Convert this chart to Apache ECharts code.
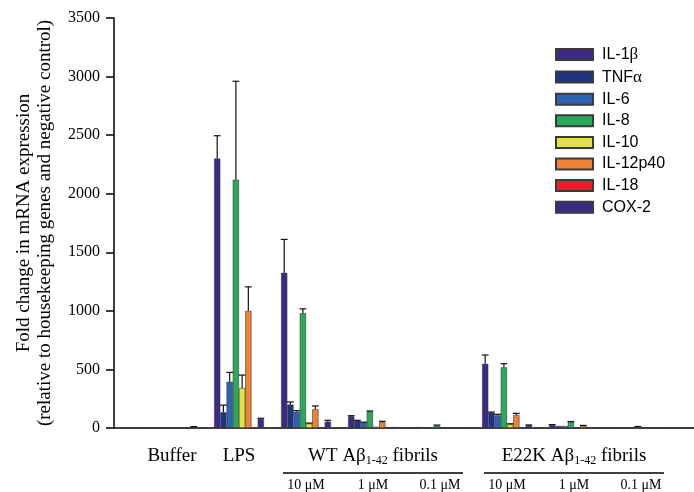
<!DOCTYPE html>
<html>
<head>
<meta charset="utf-8">
<script src="https://cdn.jsdelivr.net/npm/echarts@6/dist/echarts.min.js"></script>
<style>html,body{margin:0;padding:0;background:#fff;}#chart{width:694px;height:492px;}</style>
</head>
<body>
<div id="chart"></div>
<script>
// Categories (x)
var categories = ['Buffer', 'LPS', 'WT 10 μM', 'WT 1 μM', 'WT 0.1 μM', 'E22K 10 μM', 'E22K 1 μM', 'E22K 0.1 μM'];
var topLabels = ['Buffer', 'LPS', '', '', '', '', '', ''];
var concLabels = ['', '', '10 μM', '1 μM', '0.1 μM', '10 μM', '1 μM', '0.1 μM'];
var groupLabels = { 3: ['WT Aβ', '1-42', ' fibrils'], 6: ['E22K Aβ', '1-42', ' fibrils'] };
var yTicks = [0, 500, 1000, 1500, 2000, 2500, 3000, 3500];

// Series names and values (mean) and error (upper SD)
var seriesNames = ['IL-1β', 'TNFα', 'IL-6', 'IL-8', 'IL-10', 'IL-12p40', 'IL-18', 'COX-2'];
var il1b    = [6, 2300, 1325, 100, 8, 548, 26, 6];
var il1bErr = [0, 195, 285, 5, 0, 75, 3, 0];
var tnfa    = [5, 135, 200, 63, 5, 131, 17, 4];
var tnfaErr = [0, 60, 22, 3, 0, 5, 0, 0];
var il6     = [4, 395, 138, 48, 4, 108, 17, 5];
var il6Err  = [0, 80, 10, 2, 0, 9, 0, 0];
var il8     = [6, 2120, 980, 142, 20, 518, 51, 11];
var il8Err  = [0, 840, 37, 3, 5, 31, 4, 2];
var il10    = [2, 342, 38, 11, 2, 31, 3, 2];
var il10Err = [0, 110, 4, 0, 0, 5, 0, 0];
var il12    = [4, 1000, 160, 48, 5, 111, 20, 5];
var il12Err = [0, 205, 28, 9, 0, 14, 2, 0];
var il18    = [0, 0, 1, 0, 0, 0, 0, 0];
var il18Err = [0, 0, 0, 0, 0, 0, 0, 0];
var cox2    = [10, 77, 54, 8, 5, 23, 5, 6];
var cox2Err = [2, 6, 12, 0, 0, 3, 0, 0];

var values = [il1b, tnfa, il6, il8, il10, il12, il18, cox2];
var errors = [il1bErr, tnfaErr, il6Err, il8Err, il10Err, il12Err, il18Err, cox2Err];
var colors = ['#3d2a85', '#1f3580', '#2e63b3', '#2aa95a', '#e3e33b', '#f08233', '#e3202f', '#3c2b86'];

var BAR_FRAC = 0.093;
var serif = 'Liberation Serif';

var series = [];
seriesNames.forEach(function (name, i) {
  series.push({
    name: name,
    type: 'bar',
    xAxisIndex: 0, yAxisIndex: 0,
    data: values[i],
    barWidth: (BAR_FRAC * 100) + '%',
    barGap: '0%',
    itemStyle: { color: colors[i], borderColor: '#3a3a3a', borderWidth: 0.6 }
  });
});
seriesNames.forEach(function (name, i) {
  series.push({
    name: name,
    type: 'custom',
    xAxisIndex: 0, yAxisIndex: 0,
    z: 5,
    encode: { x: 0, y: 1 },
    data: categories.map(function (c, j) { return [j, values[i][j], errors[i][j]]; }),
    renderItem: function (params, api) {
      var e = api.value(2);
      if (!(e > 0)) return null;
      var cat = api.value(0), v = api.value(1);
      var band = api.size([1, 0])[0];
      var x = api.coord([cat, 0])[0] + (i - 3.5) * band * BAR_FRAC;
      var yb = api.coord([cat, v])[1];
      var yt = api.coord([cat, v + e])[1];
      var hw = band * BAR_FRAC * 0.55;
      var st = { stroke: '#111', lineWidth: 1.2 };
      return {
        type: 'group',
        children: [
          { type: 'line', shape: { x1: x, y1: yb, x2: x, y2: yt }, style: st },
          { type: 'line', shape: { x1: x - hw, y1: yt, x2: x + hw, y2: yt }, style: st }
        ]
      };
    }
  });
});

function xLabel(value, index) {
  var l1, l2, l3;
  if (groupLabels[index]) {
    var g = groupLabels[index];
    l1 = '{t|' + g[0] + '}{sub|' + g[1] + '}{t|' + g[2] + '}';
    l2 = '{u| }';
  } else {
    l1 = '{t|' + (topLabels[index] || ' ') + '}';
    l2 = '{s| }';
  }
  l3 = '{c|' + (concLabels[index] || ' ') + '}';
  return l1 + '\n' + l2 + '\n' + l3;
}

function legendFmt(name) {
  return name.replace(/([αβ])/g, '{g|$1}').replace(/^([^{]+)/, '{n|$1}').replace(/\}([^{]+)$/, '}{n|$1}');
}

var chart = echarts.init(document.getElementById('chart'), null, { renderer: 'canvas' });
chart.setOption({
  animation: false,
  backgroundColor: '#fff',
  grid: [
    { left: 138.5, right: 19.5, top: 18, bottom: 64, containLabel: false, outerBoundsMode: 'none' },
    { left: 114, right: 0, top: 18, bottom: 64, containLabel: false, outerBoundsMode: 'none' }
  ],
  legend: {
    data: seriesNames,
    orient: 'vertical',
    left: 550, top: 41,
    padding: 5,
    icon: 'rect',
    itemWidth: 37, itemHeight: 11, itemGap: 5.6,
    formatter: legendFmt,
    textStyle: {
      fontFamily: 'Liberation Sans', fontSize: 16, lineHeight: 16, color: '#000', padding: [0, 0, 0, 4],
      rich: {
        n: { fontFamily: 'Liberation Sans', fontSize: 16, color: '#000' },
        g: { fontFamily: serif, fontSize: 17, color: '#000' }
      }
    }
  },
  xAxis: [
    {
      type: 'category', gridIndex: 0, data: categories,
      axisLine: { show: false }, axisTick: { show: false },
      axisLabel: {
        interval: 0, margin: 17, color: '#000', formatter: xLabel,
        rich: {
          t: { fontFamily: serif, fontSize: 19, lineHeight: 22, color: '#000' },
          sub: { fontFamily: serif, fontSize: 12, lineHeight: 8, verticalAlign: 'bottom', color: '#000' },
          u: { width: 180, height: 1.3, lineHeight: 12, backgroundColor: '#000', fontSize: 1 },
          s: { lineHeight: 12, fontSize: 1 },
          c: { fontFamily: serif, fontSize: 14, lineHeight: 12, color: '#000' }
        }
      }
    },
    {
      type: 'value', gridIndex: 1, min: 0, max: 1,
      axisLine: { show: true, onZero: false, lineStyle: { color: '#000', width: 1.5 } },
      axisTick: { show: false }, axisLabel: { show: false }, splitLine: { show: false }
    }
  ],
  yAxis: [
    {
      type: 'value', gridIndex: 0, min: yTicks[0], max: yTicks[yTicks.length - 1], interval: 500,
      offset: 24.5,
      name: 'Fold change in mRNA expression\n(relative to housekeeping genes and negative control)',
      nameLocation: 'middle', nameRotate: 90, nameGap: 58.5, nameMoveOverlap: false,
      nameTextStyle: { fontFamily: serif, fontSize: 19, lineHeight: 21, color: '#000' },
      axisLine: { show: true, lineStyle: { color: '#000', width: 1.5 } },
      axisTick: { show: true, length: 8, lineStyle: { color: '#000', width: 1.5 } },
      axisLabel: { fontFamily: serif, fontSize: 16, color: '#000', margin: 14, formatter: function (v) { return String(v); } },
      splitLine: { show: false }
    },
    { type: 'value', gridIndex: 1, min: 0, max: 1, show: false }
  ],
  series: series
});
</script>
</body>
</html>
